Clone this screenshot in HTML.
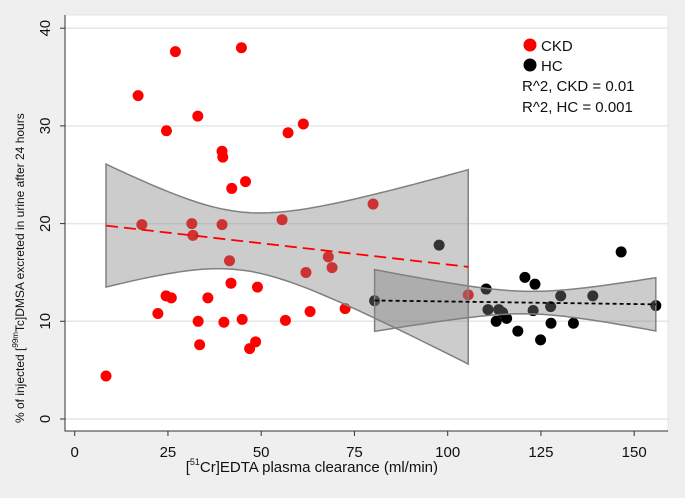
<!DOCTYPE html>
<html><head><meta charset="utf-8"><style>
body{margin:0;background:#efefef;}
svg{display:block;font-family:"Liberation Sans",Arial,sans-serif;}
</style></head><body>
<svg id="chart" width="685" height="498" viewBox="0 0 685 498" xmlns="http://www.w3.org/2000/svg">
<rect x="0" y="0" width="685" height="498" fill="#efefef"/>
<rect x="65" y="15" width="603" height="416" fill="#ffffff" stroke="#e4e4e4"/>
<g id="grid"></g><g id="pts"></g><g id="bands"></g><g id="lines"></g><g id="axes"></g>
<g font-size="15" fill="#111">
<circle cx="530" cy="45" r="6.5" fill="#ff0000"/>
<text x="541" y="51">CKD</text>
<circle cx="530" cy="65" r="6.5" fill="#000"/>
<text x="541" y="71">HC</text>
<text x="522" y="91">R^2, CKD = 0.01</text>
<text x="522" y="112">R^2, HC = 0.001</text>
</g>
<text x="438" y="472" font-size="15" text-anchor="end" fill="#111">[<tspan dy="-7" font-size="9">51</tspan><tspan dy="7">Cr]EDTA plasma clearance (ml/min)</tspan></text>
<text transform="translate(24,423) rotate(-90)" font-size="12" fill="#111">% of injected [<tspan dy="-6" font-size="8">99m</tspan><tspan dy="6">Tc]DMSA excreted in urine after 24 hours</tspan></text>
</svg>
<script>
const ckdX=[8.4,17,27,44.7,33,24.6,61.3,57.2,39.5,39.7,45.8,42.1,18,31.4,31.7,39.5,55.6,41.5,68,69,62,41.9,49,24.5,25.9,35.7,22.3,72.5,63.1,33.1,40,44.9,56.5,33.5,48.5,46.9,80,105.5];
const ckdY=[4.4,33.1,37.6,38.0,31.0,29.5,30.2,29.3,27.4,26.8,24.3,23.6,19.9,20.0,18.8,19.9,20.4,16.2,16.6,15.5,15.0,13.9,13.5,12.6,12.4,12.4,10.8,11.3,11.0,10.0,9.9,10.2,10.1,7.6,7.9,7.2,22.0,12.7];
const hcX=[97.7,80.4,110.3,120.7,123.4,130.3,138.9,146.5,155.8,110.8,113.7,114.7,115.8,113,122.9,127.6,127.7,133.7,118.8,124.9];
const hcY=[17.8,12.1,13.3,14.5,13.8,12.6,12.6,17.1,11.6,11.2,11.2,10.9,10.3,10.0,11.1,11.5,9.8,9.8,9.0,8.1];
const xTicks=[0,25,50,75,100,125,150];
const yTicks=[0,10,20,30,40];
const NS="http://www.w3.org/2000/svg";
const sx=v=>74.7+v*3.73, sy=v=>419-v*9.77;
function mk(tag,attrs,parent){const e=document.createElementNS(NS,tag);for(const k in attrs)e.setAttribute(k,attrs[k]);document.getElementById(parent).appendChild(e);return e;}
yTicks.forEach(t=>{
 const g=mk('line',{x1:65,x2:668,y1:sy(t),y2:sy(t),stroke:'#e6e6e6','stroke-width':1.5},'grid');
 
 
 const tk=mk('line',{x1:60,x2:65,y1:sy(t),y2:sy(t),stroke:'#333'},'axes');
 
 
 const tx=mk('text',{transform:`translate(50,${sy(t)}) rotate(-90)`,'text-anchor':'middle','font-size':15,fill:'#111'},'axes');
 tx.textContent=t;
 
 
});
xTicks.forEach(t=>{
 const tk=mk('line',{x1:sx(t),x2:sx(t),y1:431,y2:436,stroke:'#333'},'axes');
 
 
 const tx=mk('text',{x:sx(t),y:457,'text-anchor':'middle','font-size':15,fill:'#111'},'axes');
 tx.textContent=t;
 
 
});
const ax=mk('path',{d:'M65 15 V431 H668',fill:'none',stroke:'#333'},'axes');


function fit(X,Y,name,color,dash){
 const n=X.length,mx=X.reduce((a,b)=>a+b)/n,my=Y.reduce((a,b)=>a+b)/n;
 let sxx=0,sxy=0;X.forEach((x,i)=>{sxx+=(x-mx)**2;sxy+=(x-mx)*(Y[i]-my);});
 const b=sxy/sxx,a=my-b*mx;let sse=0;X.forEach((x,i)=>{sse+=(Y[i]-a-b*x)**2;});
 const s=Math.sqrt(sse/(n-2)),t=2.03;
 const x0=Math.min(...X),x1=Math.max(...X);const up=[],lo=[];
 for(let k=0;k<=40;k++){const x=x0+(x1-x0)*k/40;const se=s*Math.sqrt(1/n+(x-mx)**2/sxx);const yh=a+b*x;
  up.push(`${sx(x).toFixed(1)},${sy(yh+t*se).toFixed(1)}`);lo.unshift(`${sx(x).toFixed(1)},${sy(yh-t*se).toFixed(1)}`);}
 const band=mk('polygon',{points:up.concat(lo).join(' '),fill:'rgba(128,128,128,0.4)',stroke:'#808080','stroke-width':1.5},'bands');
 
 
 const ln=mk('line',{x1:sx(x0),y1:sy(a+b*x0),x2:sx(x1),y2:sy(a+b*x1),stroke:color,'stroke-width':1.8,'stroke-dasharray':dash},'lines');
 
 
}
fit(ckdX,ckdY,'ckd','#ff0000','12 6');
fit(hcX,hcY,'hc','#000','4 3');
ckdX.forEach((x,i)=>{const c=mk('circle',{cx:sx(x),cy:sy(ckdY[i]),r:5.5,fill:'#ff0000'},'pts');
 
 });
hcX.forEach((x,i)=>{const c=mk('circle',{cx:sx(x),cy:sy(hcY[i]),r:5.5,fill:'#000'},'pts');
 
 });
</script>
</body></html>
